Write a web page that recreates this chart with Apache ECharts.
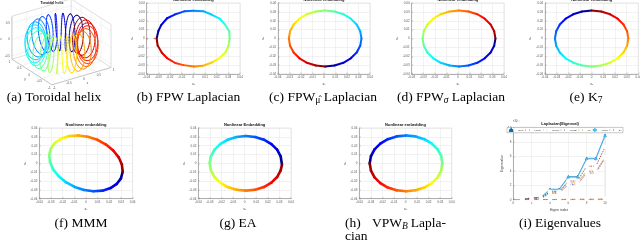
<!DOCTYPE html>
<html><head><meta charset="utf-8">
<script src="https://cdn.jsdelivr.net/npm/echarts@6/dist/echarts.min.js"></script>
<style>html,body{margin:0;padding:0;background:#fff}#c{width:640px;height:241px}</style>
</head><body><div id="c"></div>
<script>
// ================= DATA =================
const scatterTickLabels = ['-0.04','-0.03','-0.02','-0.01','0','0.01','0.02','0.03','0.04'];
const eigTickLabels = ['0','2','4','6','8','10'];
const helix3dTicks = ['-1','-0.5','0','0.5','1'];
const helixZTicks = ['-0.5','0','0.5'];

// (b) FPW Laplacian embedding (ordered along colour parameter)
const ptsFPW = [[-0.0315,0],[-0.0300,0.0085],[-0.0276,0.0150],[-0.0225,0.0228],[-0.0160,0.0270],[-0.0078,0.0306],[0,0.0312],[0.0085,0.0308],[0.0155,0.0270],[0.0226,0.0225],[0.0270,0.0160],[0.0308,0.0078],[0.0312,0],[0.0300,-0.0086],[0.0276,-0.0155],[0.0220,-0.0226],[0.0160,-0.0270],[0.0080,-0.0308],[0.0005,-0.0316],[-0.0085,-0.0300],[-0.0155,-0.0276],[-0.0226,-0.0220],[-0.0270,-0.0160],[-0.0306,-0.0080]];
// (c) FPW_mu
const ptsFPWmu = [[0.001,-0.0316],[0.0092,-0.0305],[0.0168,-0.0274],[0.0233,-0.0223],[0.0284,-0.0158],[0.0315,-0.0082],[0.0326,0],[0.0315,0.0082],[0.0284,0.0158],[0.0233,0.0223],[0.0168,0.0274],[0.0092,0.0305],[0.001,0.0316],[-0.0072,0.0305],[-0.0148,0.0274],[-0.0213,0.0223],[-0.0264,0.0158],[-0.0295,0.0082],[-0.0306,0],[-0.0295,-0.0082],[-0.0264,-0.0158],[-0.0213,-0.0223],[-0.0148,-0.0274],[-0.0072,-0.0305]];
// (d) FPW_sigma
const ptsFPWsigma = [[0.0326,0],[0.0315,-0.0082],[0.0284,-0.0158],[0.0233,-0.0223],[0.0168,-0.0274],[0.0092,-0.0305],[0.001,-0.0316],[-0.0072,-0.0305],[-0.0148,-0.0274],[-0.0213,-0.0223],[-0.0264,-0.0158],[-0.0295,-0.0082],[-0.0306,0],[-0.0295,0.0082],[-0.0264,0.0158],[-0.0213,0.0223],[-0.0148,0.0274],[-0.0072,0.0305],[0.001,0.0316],[0.0092,0.0305],[0.0168,0.0274],[0.0233,0.0223],[0.0284,0.0158],[0.0315,0.0082]];
// (e) K7
const ptsK7 = [[0,0.0315],[-0.0082,0.0304],[-0.0158,0.0273],[-0.0223,0.0223],[-0.0273,0.0158],[-0.0304,0.0082],[-0.0315,0],[-0.0304,-0.0082],[-0.0273,-0.0158],[-0.0223,-0.0223],[-0.0158,-0.0273],[-0.0082,-0.0304],[0,-0.0315],[0.0082,-0.0304],[0.0158,-0.0273],[0.0223,-0.0223],[0.0273,-0.0158],[0.0304,-0.0082],[0.0315,0],[0.0304,0.0082],[0.0273,0.0158],[0.0223,0.0223],[0.0158,0.0273],[0.0082,0.0304]];
// (f) MMM
const ptsMMM = [[0.0315,-0.0095],[0.0300,-0.0170],[0.0264,-0.0233],[0.0211,-0.0280],[0.0143,-0.0309],[0.0065,-0.0316],[-0.0016,-0.0301],[-0.0097,-0.0267],[-0.0172,-0.0213],[-0.0234,-0.0146],[-0.0281,-0.0068],[-0.0308,0.0014],[-0.0315,0.0095],[-0.0300,0.0170],[-0.0264,0.0233],[-0.0211,0.0280],[-0.0143,0.0309],[-0.0065,0.0316],[0.0016,0.0301],[0.0097,0.0267],[0.0172,0.0213],[0.0234,0.0146],[0.0281,0.0068],[0.0308,-0.0014]];
// (g) EA
const ptsEA = [[0.0322,-0.0015],[0.0311,0.0080],[0.0280,0.0155],[0.0231,0.0218],[0.0166,0.0268],[0.0091,0.0298],[0.001,0.0309],[-0.0071,0.0298],[-0.0146,0.0268],[-0.0211,0.0218],[-0.0260,0.0155],[-0.0291,0.0080],[-0.0302,0],[-0.0291,-0.0080],[-0.0260,-0.0155],[-0.0211,-0.0218],[-0.0146,-0.0268],[-0.0071,-0.0298],[0.001,-0.0309],[0.0091,-0.0298],[0.0166,-0.0268],[0.0231,-0.0218],[0.0280,-0.0155],[0.0311,-0.0080]];
// (h) VPW_B
const ptsVPWB = [[-0.031,0],[-0.0299,0.0082],[-0.0268,0.0158],[-0.0218,0.0223],[-0.0153,0.0274],[-0.0077,0.0305],[0.0005,0.0316],[0.0087,0.0305],[0.0163,0.0274],[0.0228,0.0223],[0.0278,0.0158],[0.0309,0.0082],[0.032,0],[0.0309,-0.0082],[0.0278,-0.0158],[0.0228,-0.0223],[0.0163,-0.0274],[0.0087,-0.0305],[0.0005,-0.0316],[-0.0077,-0.0305],[-0.0153,-0.0274],[-0.0218,-0.0223],[-0.0268,-0.0158],[-0.0299,-0.0082]];
const fpwStartMarks = [[-0.0398,0],[-0.0335,0]];

// (i) Eigenvalues (x 1e-3)
const eigIndex = [1,2,3,4,5,6,7,8,9,10];
const eigNames = ['FPW','FPWμ','FPWσ','VPWB','K7','MMM','EA'];
const eigFPW      = [0,0.30,0.30,1.45,1.45,3.20,3.20,5.75,5.75,8.95];
const eigFPWmu    = [0,0.02,0.02,0.03,0.03,0.07,0.07,0.10,0.10,0.15];
const eigFPWsigma = [0,0.20,0.20,1.05,1.05,2.45,2.45,4.00,4.00,5.90];
const eigVPWB     = [0,0.15,0.15,0.90,0.90,2.10,2.10,3.70,3.70,5.75];
const eigK7       = [0,0.20,0.20,1.10,1.10,2.30,2.30,3.90,3.90,5.85];
const eigMMM      = [0,0.25,0.25,1.35,1.35,3.10,3.10,5.65,5.65,8.80];
const eigEA       = [0,0.25,0.25,1.10,1.10,2.60,2.60,4.65,4.65,7.30];

// (a) toroidal helix parameters
const helixCoils = 24;
const helixMajor = 0.74, helixMinor = 0.29, helixLift = 0.55;
const helixStartDeg = 70;
const helixSamples = 864;
const helixBox = {zmin:-0.6, zmax:0.7};

// ================= HELPERS =================
function clamp(v){return Math.max(0,Math.min(1,v));}
function jet(t){
  const r=clamp(1.5-Math.abs(4*t-3)), g=clamp(1.5-Math.abs(4*t-2)), b=clamp(1.5-Math.abs(4*t-1));
  return 'rgb('+Math.round(r*255)+','+Math.round(g*255)+','+Math.round(b*255)+')';
}
// 3D view projection for panel (a) -> pixel space of grid 0
function proj(p,q,z){
  const u=-19.96*p+29.6*q, v=12.85*p+8.66*q+33*z;
  return [61.5+u, 43.5-v];
}
function closeness(p,q,z){return -(0.829*p+0.559*q)+0.45*z;}
function helixPoint(t){
  const s=(helixStartDeg-360*t)*Math.PI/180, w=helixCoils*2*Math.PI*t;
  const rho=helixMajor+helixMinor*Math.cos(w);
  return [rho*Math.cos(s), rho*Math.sin(s), helixLift*Math.sin(w)];
}
const helixSegs=[];
for(let k=0;k<helixSamples;k++){
  const a=helixPoint(k/helixSamples), b=helixPoint((k+1)/helixSamples);
  helixSegs.push({v:[a[0],a[1],a[2],b[0],b[1],b[2],(k+0.5)/helixSamples], d:closeness((a[0]+b[0])/2,(a[1]+b[1])/2,(a[2]+b[2])/2)});
}
helixSegs.sort((x,y)=>x.d-y.d);

function loopData(pts){
  const n=pts.length;
  return pts.map((p,i)=>{const q=pts[(i+1)%n]; return [p[0],p[1],q[0],q[1],i/n,(i+1)/n];});
}
function loopRender(lw){
  return function(params,api){
    const a=api.coord([api.value(0),api.value(1)]), b=api.coord([api.value(2),api.value(3)]);
    const t0=api.value(4), t1=api.value(5);
    return {type:'line', shape:{x1:a[0],y1:a[1],x2:b[0],y2:b[1]},
      style:{lineWidth:lw, lineCap:'round',
        stroke:new echarts.graphic.LinearGradient(a[0],a[1],b[0],b[1],[{offset:0,color:jet(t0)},{offset:1,color:jet(t1)}],true)}};
  };
}

const meas=document.createElement('canvas').getContext('2d');
const SERIF='Liberation Serif, Times New Roman, serif';
function tw(text,size,italic){meas.font=(italic?'italic ':'')+size+'px '+SERIF;return meas.measureText(text).width;}
function caption(parts,x0,cy,align){
  const MAIN=13.5, SUB=9.5;
  const ws=parts.map(p=>tw(p[0],p[1]==='n'?MAIN:SUB,p[1]==='si'));
  const total=ws.reduce((a,b)=>a+b,0);
  let x=align==='center'?x0-total/2:align==='right'?x0-total:x0;
  const out=[];
  parts.forEach((p,i)=>{
    const sub=p[1]!=='n';
    out.push({type:'text',x:x,y:cy+(sub?3.5:0),silent:true,
      style:{text:p[0],fontSize:sub?SUB:MAIN,fontFamily:SERIF,fontStyle:p[1]==='si'?'italic':'normal',fill:'#000',align:'left',verticalAlign:'middle'}});
    x+=ws[i];
  });
  return out;
}
function smallText(text,x,y,opt){
  opt=opt||{};
  return {type:'text',x:x,y:y,rotation:opt.rot||0,silent:true,style:{text:text,fontSize:opt.size||4,fontWeight:opt.bold?'bold':'normal',
    fontFamily:'Liberation Sans, Arial, sans-serif',fill:opt.color||'#222',align:opt.align||'center',verticalAlign:'middle'}};
}

// ================= LAYOUT =================
const panels=[
  {pts:ptsFPW,      grid:{left:146.7,top:3,width:93.3,height:71}, title:'Nonlinear embedding', lw:2},
  {pts:ptsFPWmu,    grid:{left:278,top:3,width:92,height:71},     title:'Nonlinear embedding', lw:2},
  {pts:ptsFPWsigma, grid:{left:411.7,top:3,width:92.3,height:71}, title:'Nonlinear embedding', lw:2},
  {pts:ptsK7,       grid:{left:545,top:3,width:93.3,height:71},   title:'Nonlinear embedding', lw:2},
  {pts:ptsMMM,      grid:{left:39.3,top:128,width:93.3,height:70.7}, title:'Nonlinear embedding', lw:2.6},
  {pts:ptsEA,       grid:{left:198.3,top:128,width:92.7,height:70.7}, title:'Nonlinear Embedding', lw:2.6},
  {pts:ptsVPWB,     grid:{left:359.3,top:128,width:92.4,height:70.7}, title:'Nonlinear embedding', lw:2.6}
];
const eigGrid={left:513.3,top:127.7,width:91.7,height:72};

const grids=[{left:0,top:0,width:640,height:241,show:false,outerBoundsMode:'none'}];
const xAxes=[{gridIndex:0,type:'value',min:0,max:640,show:false}];
const yAxes=[{gridIndex:0,type:'value',min:0,max:241,inverse:true,show:false}];
const series=[];
const graphics=[];

function axisCommon(){
  return {type:'value',
    axisLine:{onZero:false,lineStyle:{color:'#777',width:0.5}},
    axisTick:{show:true,inside:true,length:1.5,lineStyle:{color:'#777',width:0.4}},
    splitLine:{show:true,lineStyle:{color:'#e4e4e4',width:0.5}},
    nameTextStyle:{fontSize:3.5,color:'#444',fontFamily:'Liberation Sans'}};
}
const fmtScatter=v=>{const s=scatterTickLabels[Math.round(v*100)+4];return s===undefined?'':s;};

panels.forEach((pn,k)=>{
  const gi=k+1;
  grids.push(Object.assign({show:true,borderColor:'#cfcfcf',borderWidth:0.5,backgroundColor:'#fff',outerBoundsMode:'none'},pn.grid));
  const xa=axisCommon(), ya=axisCommon();
  Object.assign(xa,{gridIndex:gi,min:-0.04,max:0.04,interval:0.01,name:'x₁',nameLocation:'middle',nameGap:8,
    axisLabel:{fontSize:3,color:'#555',margin:2,fontFamily:'Liberation Sans',formatter:fmtScatter}});
  Object.assign(ya,{gridIndex:gi,min:-0.04,max:0.04,interval:0.01,name:'x₂',nameLocation:'middle',nameGap:11,nameRotate:90,
    axisLabel:{fontSize:3,color:'#555',margin:2,fontFamily:'Liberation Sans',formatter:fmtScatter}});
  xAxes.push(xa); yAxes.push(ya);
  series.push({type:'custom',xAxisIndex:gi,yAxisIndex:gi,z:3,
    dimensions:['x1','y1','x2','y2','t0','t1'],encode:{x:0,y:1},
    data:loopData(pn.pts),renderItem:loopRender(pn.lw)});
  graphics.push(smallText(pn.title,pn.grid.left+pn.grid.width/2,pn.grid.top-3.2,{bold:true,size:4,color:'#111'}));
});
// small start markers in (b)
series.push({type:'scatter',xAxisIndex:1,yAxisIndex:1,z:4,symbol:'circle',symbolSize:1.6,
  itemStyle:{color:'#c0504d'},data:fpwStartMarks});

// ---- (i) eigenvalues ----
grids.push(Object.assign({show:true,borderColor:'#cfcfcf',borderWidth:0.5,backgroundColor:'#fff',outerBoundsMode:'none'},eigGrid));
{
  const gi=8;
  const xa=axisCommon(), ya=axisCommon();
  Object.assign(xa,{gridIndex:gi,min:0,max:10,interval:2,name:'Eigen index',nameLocation:'middle',nameGap:8,
    axisLabel:{fontSize:3,color:'#555',margin:2,fontFamily:'Liberation Sans',formatter:v=>eigTickLabels[Math.round(v/2)]||''}});
  Object.assign(ya,{gridIndex:gi,min:0,max:10,interval:2,name:'Eigenvalue',nameLocation:'middle',nameGap:6,nameRotate:90,
    axisLabel:{fontSize:3,color:'#555',margin:2,fontFamily:'Liberation Sans',formatter:v=>eigTickLabels[Math.round(v/2)]||''}});
  xAxes.push(xa); yAxes.push(ya);
  const eigVals=[eigFPW,eigFPWmu,eigFPWsigma,eigVPWB,eigK7,eigMMM,eigEA];
  const eigColors=['#0072BD','#D95319','#EDB120','#7E2F8E','#77AC30','#4DBEEE','#A2142F'];
  const eigDash=[false,true,true,true,true,false,true];
  const eigSym=['triangle','emptyCircle','emptyCircle','emptyCircle','emptyCircle','diamond','emptyCircle'];
  const order=[4,3,2,1,6,0,5];
  order.forEach(i=>{
    series.push({name:eigNames[i],type:'line',xAxisIndex:gi,yAxisIndex:gi,z:3+i*0.01,
      data:eigIndex.map((x,j)=>[x,eigVals[i][j]]),
      symbol:eigSym[i],symbolSize:2.6,showSymbol:true,
      lineStyle:{width:0.7,color:eigColors[i],type:eigDash[i]?[1.6,1]:'solid'},
      itemStyle:{color:eigSym[i]==='emptyCircle'?'#fff':eigColors[i],borderColor:eigColors[i],borderWidth:0.5}});
  });
}
graphics.push(smallText('Laplacian(Eigenval)',eigGrid.left+eigGrid.width/2+1,123.6,{bold:true,size:4,color:'#111'}));
graphics.push(smallText('×10⁻³',516,121.6,{size:2.8,color:'#444'}));

// ---- (a) toroidal helix ----
series.push({type:'custom',xAxisIndex:0,yAxisIndex:0,z:1,clip:false,data:[[0,0]],
  renderItem:function(params,api){
    const ch=[];
    const L=(a,b,c)=>{const P=api.coord(a),Q=api.coord(b);ch.push({type:'line',shape:{x1:P[0],y1:P[1],x2:Q[0],y2:Q[1]},style:{stroke:c||'#bdbdbd',lineWidth:0.5}});};
    const z0=helixBox.zmin, z1=helixBox.zmax;
    const gridC='#e6e6e6';
    [-0.5,0,0.5].forEach(g=>{L(proj(g,-1,z0),proj(g,1,z0),gridC);L(proj(-1,g,z0),proj(1,g,z0),gridC);});
    [-0.5,0,0.5].forEach(g=>{L(proj(1,-1,g),proj(1,1,g),gridC);L(proj(-1,1,g),proj(1,1,g),gridC);
      L(proj(1,g,z0),proj(1,g,z1),gridC);L(proj(g,1,z0),proj(g,1,z1),gridC);});
    L(proj(1,-1,z0),proj(-1,-1,z0),'#888');L(proj(-1,-1,z0),proj(-1,1,z0),'#888');
    L(proj(1,-1,z0),proj(1,1,z0));L(proj(1,1,z0),proj(-1,1,z0));
    L(proj(1,-1,z0),proj(1,-1,z1),'#888');L(proj(1,1,z0),proj(1,1,z1));L(proj(-1,1,z0),proj(-1,1,z1));
    L(proj(1,-1,z1),proj(1,1,z1));L(proj(1,1,z1),proj(-1,1,z1));
    const T=(txt,pt,dx,dy,al)=>{const P=api.coord(pt);ch.push({type:'text',x:P[0]+dx,y:P[1]+dy,style:{text:txt,fontSize:3,fill:'#555',fontFamily:'Liberation Sans',align:al||'center',verticalAlign:'middle'}});};
    helixZTicks.forEach(s=>T(s,proj(1,-1,parseFloat(s)),-2,0,'right'));
    helix3dTicks.forEach(s=>T(s,proj(parseFloat(s),-1,z0),-2.5,3,'center'));
    helix3dTicks.forEach(s=>T(s,proj(-1,parseFloat(s),z0),2.5,3,'center'));
    T('z',proj(1,-1,0),-11,0);
    T('y',proj(0,-1,z0),-7,7);
    T('x',proj(-1,0,z0),6,7);
    return {type:'group',children:ch};
  }});
series.push({type:'custom',xAxisIndex:0,yAxisIndex:0,z:2,clip:false,
  dimensions:['p1','q1','z1','p2','q2','z2','t'],encode:{x:0,y:1},
  data:helixSegs.map(s=>s.v),
  renderItem:function(params,api){
    const a=api.coord(proj(api.value(0),api.value(1),api.value(2)));
    const b=api.coord(proj(api.value(3),api.value(4),api.value(5)));
    return {type:'line',shape:{x1:a[0],y1:a[1],x2:b[0],y2:b[1]},style:{stroke:jet(api.value(6)),lineWidth:0.85,lineCap:'round'}};
  }});
graphics.push(smallText('Toroidal helix',52,3.2,{bold:true,size:3.6,color:'#111'}));

// ---- captions ----
[].concat(
  caption([['(a) Toroidal helix','n']],54,97,'center'),
  caption([['(b) FPW Laplacian','n']],188.5,97,'center'),
  caption([['(c) FPW','n'],['μ̂','s'],[' Laplacian','n']],323,97,'center'),
  caption([['(d) FPW','n'],['σ','si'],[' Laplacian','n']],451,97,'center'),
  caption([['(e) K','n'],['7','s']],586,97,'center'),
  caption([['(f) MMM','n']],81,223,'center'),
  caption([['(g) EA','n']],238,223,'center'),
  caption([['(h)','n']],345,223,'left'),
  caption([['VPW','n'],['B','si']],372,223,'left'),
  caption([['Lapla-','n']],446,223,'right'),
  caption([['cian','n']],345,236,'left'),
  caption([['(i) Eigenvalues','n']],560,223,'center')
).forEach(g=>graphics.push(g));

const chart=echarts.init(document.getElementById('c'),null,{renderer:'canvas',width:640,height:241});
chart.setOption({
  animation:false,
  backgroundColor:'#fff',
  textStyle:{fontFamily:'Liberation Sans'},
  grid:grids, xAxis:xAxes, yAxis:yAxes, series:series,
  legend:{data:eigNames,top:127.4,left:507,orient:'horizontal',itemWidth:4,itemHeight:2.2,itemGap:1.2,
    padding:[0.8,1.2],textStyle:{fontSize:2.3,color:'#222'},borderColor:'#777',borderWidth:0.4,
    backgroundColor:'#fff',selectedMode:false,z:10},
  graphic:graphics
});
</script></body></html>
